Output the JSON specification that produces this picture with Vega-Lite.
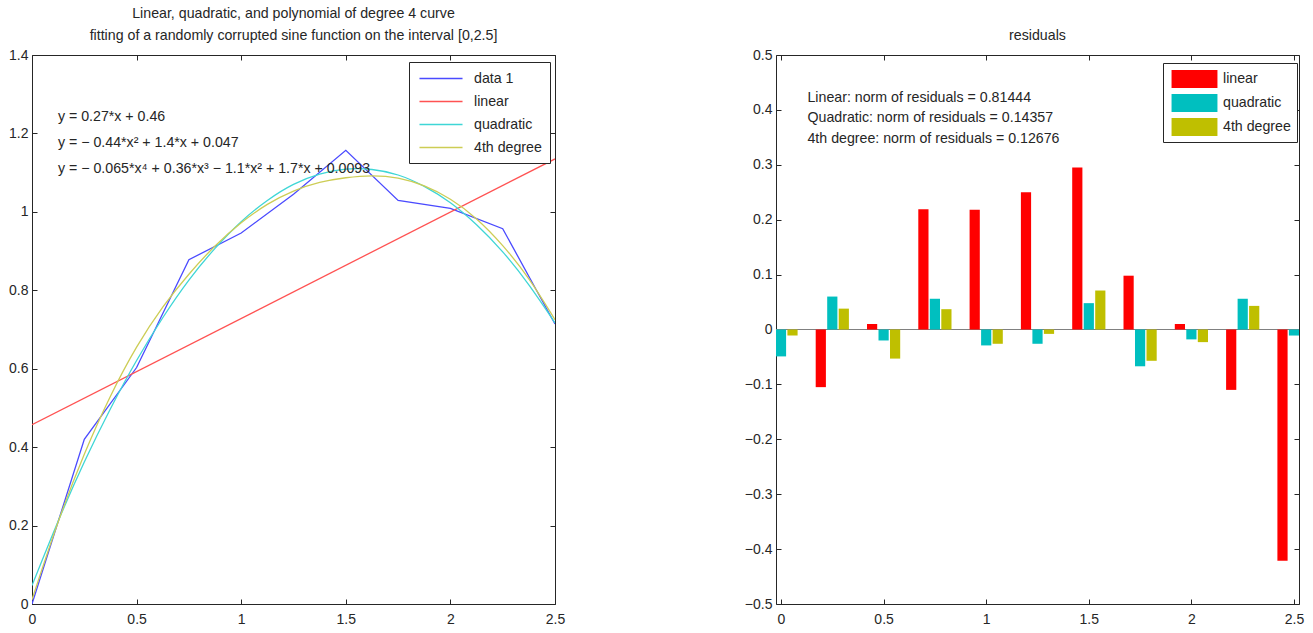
{
  "$schema": "https://vega.github.io/schema/vega-lite/v6.json",
  "background": "white",
  "padding": {"left": 8, "top": 6, "right": 5, "bottom": 5},
  "config": {
    "font": "Liberation Sans, Arial, sans-serif",
    "view": {"stroke": "#262626", "strokeWidth": 1},
    "axis": {
      "grid": false,
      "domain": false,
      "title": null,
      "tickSize": -5,
      "tickColor": "#262626",
      "labelColor": "#262626",
      "labelFontSize": 14,
      "labelFlush": false,
      "labelOverlap": false,
      "labelFont": "Liberation Sans, Arial, sans-serif"
    },
    "axisX": {"labelPadding": 13},
    "axisY": {"labelPadding": 9},
    "title": {
      "fontSize": 14.2,
      "fontWeight": "normal",
      "color": "#262626",
      "offset": 5,
      "lineHeight": 22,
      "font": "Liberation Sans, Arial, sans-serif"
    },
    "legend": {
      "labelFontSize": 14.2,
      "labelColor": "#262626",
      "labelFont": "Liberation Sans, Arial, sans-serif",
      "strokeColor": "#262626",
      "fillColor": "white"
    }
  },
  "datasets": {
    "curves": [
      {"x": 0, "y": 0, "series": "data 1"},
      {"x": 0.25, "y": 0.42, "series": "data 1"},
      {"x": 0.5, "y": 0.603, "series": "data 1"},
      {"x": 0.75, "y": 0.878, "series": "data 1"},
      {"x": 1.0, "y": 0.946, "series": "data 1"},
      {"x": 1.25, "y": 1.045, "series": "data 1"},
      {"x": 1.5, "y": 1.157, "series": "data 1"},
      {"x": 1.75, "y": 1.029, "series": "data 1"},
      {"x": 2.0, "y": 1.009, "series": "data 1"},
      {"x": 2.25, "y": 0.957, "series": "data 1"},
      {"x": 2.5, "y": 0.714, "series": "data 1"},
      {"x": 0, "y": 0.457, "series": "linear"},
      {"x": 2.5, "y": 1.135, "series": "linear"},
      {"x": 0, "y": 0.047, "series": "quadratic"},
      {"x": 0.125, "y": 0.211, "series": "quadratic"},
      {"x": 0.25, "y": 0.362, "series": "quadratic"},
      {"x": 0.375, "y": 0.498, "series": "quadratic"},
      {"x": 0.5, "y": 0.621, "series": "quadratic"},
      {"x": 0.625, "y": 0.73, "series": "quadratic"},
      {"x": 0.75, "y": 0.826, "series": "quadratic"},
      {"x": 0.875, "y": 0.907, "series": "quadratic"},
      {"x": 1.0, "y": 0.975, "series": "quadratic"},
      {"x": 1.125, "y": 1.029, "series": "quadratic"},
      {"x": 1.25, "y": 1.07, "series": "quadratic"},
      {"x": 1.375, "y": 1.096, "series": "quadratic"},
      {"x": 1.5, "y": 1.109, "series": "quadratic"},
      {"x": 1.625, "y": 1.108, "series": "quadratic"},
      {"x": 1.75, "y": 1.094, "series": "quadratic"},
      {"x": 1.875, "y": 1.065, "series": "quadratic"},
      {"x": 2.0, "y": 1.023, "series": "quadratic"},
      {"x": 2.125, "y": 0.967, "series": "quadratic"},
      {"x": 2.25, "y": 0.898, "series": "quadratic"},
      {"x": 2.375, "y": 0.814, "series": "quadratic"},
      {"x": 2.5, "y": 0.717, "series": "quadratic"},
      {"x": 0, "y": 0.011, "series": "4th degree"},
      {"x": 0.125, "y": 0.209, "series": "4th degree"},
      {"x": 0.25, "y": 0.382, "series": "4th degree"},
      {"x": 0.375, "y": 0.53, "series": "4th degree"},
      {"x": 0.5, "y": 0.655, "series": "4th degree"},
      {"x": 0.625, "y": 0.757, "series": "4th degree"},
      {"x": 0.75, "y": 0.841, "series": "4th degree"},
      {"x": 0.875, "y": 0.913, "series": "4th degree"},
      {"x": 1.0, "y": 0.972, "series": "4th degree"},
      {"x": 1.125, "y": 1.019, "series": "4th degree"},
      {"x": 1.25, "y": 1.053, "series": "4th degree"},
      {"x": 1.375, "y": 1.075, "series": "4th degree"},
      {"x": 1.5, "y": 1.087, "series": "4th degree"},
      {"x": 1.625, "y": 1.092, "series": "4th degree"},
      {"x": 1.75, "y": 1.086, "series": "4th degree"},
      {"x": 1.875, "y": 1.066, "series": "4th degree"},
      {"x": 2.0, "y": 1.032, "series": "4th degree"},
      {"x": 2.125, "y": 0.982, "series": "4th degree"},
      {"x": 2.25, "y": 0.914, "series": "4th degree"},
      {"x": 2.375, "y": 0.829, "series": "4th degree"},
      {"x": 2.5, "y": 0.725, "series": "4th degree"}
    ],
    "residuals": [
      {"x": 0, "fit": "linear", "r": -0.457},
      {"x": 0, "fit": "quadratic", "r": -0.049},
      {"x": 0, "fit": "4th degree", "r": -0.011},
      {"x": 0.25, "fit": "linear", "r": -0.105},
      {"x": 0.25, "fit": "quadratic", "r": 0.06},
      {"x": 0.25, "fit": "4th degree", "r": 0.038},
      {"x": 0.5, "fit": "linear", "r": 0.01},
      {"x": 0.5, "fit": "quadratic", "r": -0.02},
      {"x": 0.5, "fit": "4th degree", "r": -0.053},
      {"x": 0.75, "fit": "linear", "r": 0.219},
      {"x": 0.75, "fit": "quadratic", "r": 0.056},
      {"x": 0.75, "fit": "4th degree", "r": 0.037},
      {"x": 1.0, "fit": "linear", "r": 0.218},
      {"x": 1.0, "fit": "quadratic", "r": -0.029},
      {"x": 1.0, "fit": "4th degree", "r": -0.026},
      {"x": 1.25, "fit": "linear", "r": 0.25},
      {"x": 1.25, "fit": "quadratic", "r": -0.026},
      {"x": 1.25, "fit": "4th degree", "r": -0.008},
      {"x": 1.5, "fit": "linear", "r": 0.295},
      {"x": 1.5, "fit": "quadratic", "r": 0.048},
      {"x": 1.5, "fit": "4th degree", "r": 0.071},
      {"x": 1.75, "fit": "linear", "r": 0.098},
      {"x": 1.75, "fit": "quadratic", "r": -0.067},
      {"x": 1.75, "fit": "4th degree", "r": -0.057},
      {"x": 2.0, "fit": "linear", "r": 0.01},
      {"x": 2.0, "fit": "quadratic", "r": -0.018},
      {"x": 2.0, "fit": "4th degree", "r": -0.023},
      {"x": 2.25, "fit": "linear", "r": -0.11},
      {"x": 2.25, "fit": "quadratic", "r": 0.056},
      {"x": 2.25, "fit": "4th degree", "r": 0.043},
      {"x": 2.5, "fit": "linear", "r": -0.421},
      {"x": 2.5, "fit": "quadratic", "r": -0.011},
      {"x": 2.5, "fit": "4th degree", "r": -0.01}
    ]
  },
  "bounds": "flush",
  "spacing": 221,
  "resolve": {
    "scale": {"color": "independent", "strokeWidth": "independent"},
    "legend": {"color": "independent", "strokeWidth": "independent"}
  },
  "hconcat": [
    {
      "width": 523,
      "height": 549,
      "title": {
        "text": [
          "Linear, quadratic, and polynomial of degree 4 curve",
          "fitting of a randomly corrupted sine function on the interval [0,2.5]"
        ]
      },
      "resolve": {"axis": {"x": "independent", "y": "independent"}},
      "layer": [
        {
          "data": {"name": "curves"},
          "transform": [{"filter": {"field": "series", "oneOf": ["data 1", "linear"]}}],
          "mark": {"type": "line", "clip": true},
          "encoding": {
            "x": {
              "field": "x", "type": "quantitative",
              "scale": {"domain": [0, 2.5], "nice": false, "zero": false},
              "axis": {"orient": "bottom", "values": [0, 0.5, 1, 1.5, 2, 2.5], "format": "~g"}
            },
            "y": {
              "field": "y", "type": "quantitative",
              "scale": {"domain": [0, 1.4], "nice": false},
              "axis": {"orient": "left", "values": [0, 0.2, 0.4, 0.6, 0.8, 1, 1.2, 1.4], "format": "~g"}
            },
            "color": {
              "field": "series", "type": "nominal",
              "scale": {
                "domain": ["data 1", "linear", "quadratic", "4th degree"],
                "range": ["#4a4aff", "#ff5252", "#3fd6d6", "#cdcd55"]
              },
              "legend": {
                "title": null,
                "orient": "none",
                "legendX": 377,
                "legendY": 7,
                "padding": 8,
                "rowPadding": 7,
                "symbolType": "M-2.87,0H2.87",
                "symbolSize": 225,
                "symbolOffset": 15.5,
                "labelOffset": 24.5
              }
            },
            "strokeWidth": {
              "field": "series", "type": "nominal",
              "scale": {
                "domain": ["data 1", "linear", "quadratic", "4th degree"],
                "range": [1.3, 1.3, 1.6, 2.2]
              },
              "legend": null
            }
          }
        },
        {
          "data": {"name": "curves"},
          "transform": [{"filter": {"field": "series", "oneOf": ["quadratic", "4th degree"]}}],
          "mark": {"type": "line", "clip": true, "interpolate": "natural"},
          "encoding": {
            "x": {"field": "x", "type": "quantitative", "axis": null},
            "y": {"field": "y", "type": "quantitative", "axis": null},
            "color": {"field": "series", "type": "nominal"},
            "strokeWidth": {"field": "series", "type": "nominal", "legend": null}
          }
        },
        {
          "data": {"name": "curves"},
          "mark": {"type": "point", "opacity": 0},
          "encoding": {
            "x": {
              "field": "x", "type": "quantitative",
              "axis": {"orient": "top", "values": [0, 0.5, 1, 1.5, 2, 2.5], "labels": false, "minExtent": 0, "maxExtent": 0}
            },
            "y": {
              "field": "y", "type": "quantitative",
              "axis": {"orient": "right", "values": [0, 0.2, 0.4, 0.6, 0.8, 1, 1.2, 1.4], "labels": false, "minExtent": 0, "maxExtent": 0}
            }
          }
        },
        {
          "data": {"values": [{}]},
          "mark": {
            "type": "text",
            "align": "left",
            "baseline": "alphabetic",
            "fontSize": 14.2,
            "lineHeight": 26,
            "color": "#262626",
            "text": [
              "y = 0.27*x + 0.46",
              "y = − 0.44*x² + 1.4*x + 0.047",
              "y = − 0.065*x⁴ + 0.36*x³ − 1.1*x² + 1.7*x + 0.0093"
            ]
          },
          "encoding": {
            "x": {"datum": 0.124, "type": "quantitative", "axis": null},
            "y": {"datum": 1.232, "type": "quantitative", "axis": null}
          }
        }
      ]
    },
    {
      "width": 523,
      "height": 549,
      "title": {"text": "residuals"},
      "resolve": {"axis": {"x": "independent", "y": "independent"}},
      "layer": [
        {
          "data": {"values": [{}]},
          "mark": {"type": "rule", "color": "#808080", "strokeWidth": 1.2},
          "encoding": {
            "y": {"datum": 0, "type": "quantitative", "axis": null}
          }
        },
        {
          "data": {"name": "residuals"},
          "mark": {
            "type": "bar",
            "clip": true,
            "width": 10.2,
            "xOffset": {"expr": "datum.fit === 'linear' ? -11.5 : (datum.fit === 'quadratic' ? 0 : 11.5)"}
          },
          "encoding": {
            "x": {
              "field": "x", "type": "quantitative",
              "scale": {"domain": [0, 2.5], "nice": false, "zero": false},
              "axis": {"orient": "bottom", "values": [0, 0.5, 1, 1.5, 2, 2.5], "format": "~g"}
            },
            "y": {
              "field": "r", "type": "quantitative", "stack": null,
              "scale": {"domain": [-0.5, 0.5], "nice": false},
              "axis": {"orient": "left", "values": [-0.5, -0.4, -0.3, -0.2, -0.1, 0, 0.1, 0.2, 0.3, 0.4, 0.5], "format": "~g"}
            },
            "color": {
              "field": "fit", "type": "nominal",
              "scale": {
                "domain": ["linear", "quadratic", "4th degree"],
                "range": ["#ff0000", "#00bfbf", "#bfbf00"]
              },
              "legend": {
                "title": null,
                "orient": "none",
                "legendX": 387,
                "legendY": 8,
                "padding": 6,
                "rowPadding": 5,
                "symbolType": "M-2.55,-1H2.55V1H-2.55Z",
                "symbolSize": 324,
                "symbolOffset": 15.5,
                "labelOffset": 18.5
              }
            }
          }
        },
        {
          "data": {"name": "residuals"},
          "mark": {"type": "point", "opacity": 0},
          "encoding": {
            "x": {
              "field": "x", "type": "quantitative",
              "axis": {"orient": "top", "values": [0, 0.5, 1, 1.5, 2, 2.5], "labels": false, "minExtent": 0, "maxExtent": 0}
            },
            "y": {
              "field": "r", "type": "quantitative",
              "axis": {"orient": "right", "values": [-0.5, -0.4, -0.3, -0.2, -0.1, 0, 0.1, 0.2, 0.3, 0.4, 0.5], "labels": false, "minExtent": 0, "maxExtent": 0}
            }
          }
        },
        {
          "data": {"values": [{}]},
          "mark": {
            "type": "text",
            "align": "left",
            "baseline": "alphabetic",
            "fontSize": 14.2,
            "lineHeight": 20.5,
            "color": "#262626",
            "text": [
              "Linear: norm of residuals = 0.81444",
              "Quadratic: norm of residuals = 0.14357",
              "4th degree: norm of residuals = 0.12676"
            ]
          },
          "encoding": {
            "x": {"datum": 0.129, "type": "quantitative", "axis": null},
            "y": {"datum": 0.4144, "type": "quantitative", "axis": null}
          }
        }
      ]
    }
  ]
}
